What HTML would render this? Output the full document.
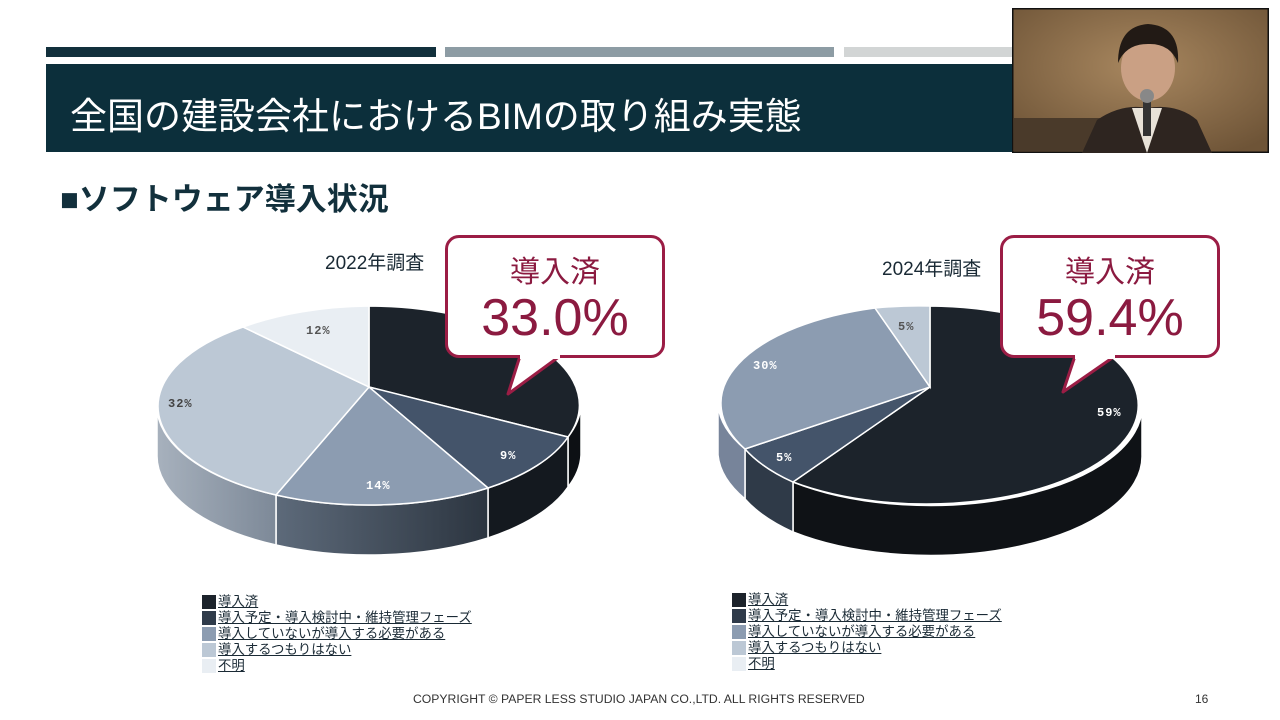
<!DOCTYPE html>
<html><head><meta charset="utf-8"><style>
body{margin:0;width:1280px;height:720px;background:#fff;position:relative;overflow:hidden;font-family:"Liberation Sans","Noto Sans CJK JP",sans-serif}
.a{position:absolute}
.leg{position:absolute;font-size:13.4px;color:#1a2a35;line-height:16px}
.leg div{position:relative;height:16px;padding-left:16px;white-space:nowrap}
.leg span{text-decoration:underline}
.leg i{position:absolute;left:0;top:1px;width:14px;height:14px}
.co{position:absolute;width:214px;height:117px;border:3px solid #9b1d45;border-radius:14px;background:#fff;color:#8b1a40;text-align:center}
</style></head><body>
<div class="a" style="left:46px;top:47px;width:390px;height:10px;background:#12303c"></div>
<div class="a" style="left:445px;top:47px;width:389px;height:10px;background:#8d9ca4"></div>
<div class="a" style="left:844px;top:47px;width:170px;height:10px;background:#d2d5d5"></div>
<div class="a" style="left:46px;top:64px;width:968px;height:88px;background:#0c2f3b"></div>
<div class="a" style="left:70px;top:86px;font-size:37px;color:#fff;white-space:nowrap">全国の建設会社におけるBIMの取り組み実態</div>
<svg class="a" style="left:1012px;top:8px" width="257" height="145">
<defs><radialGradient id="bg" cx="0.5" cy="0.4" r="0.7"><stop offset="0" stop-color="#a8875f"/><stop offset="1" stop-color="#6e5437"/></radialGradient></defs>
<rect width="257" height="145" fill="url(#bg)" stroke="#111" stroke-width="3"/>
<rect x="2" y="110" width="90" height="33" fill="#4a3a2a"/>
<path d="M70 145 L85 112 Q110 95 135 100 Q165 95 185 112 L200 145Z" fill="#2e2520"/>
<path d="M120 100 L135 145 L150 100Z" fill="#e8e2d8"/>
<ellipse cx="136" cy="60" rx="27" ry="33" fill="#caa084"/>
<path d="M106 55 Q106 18 136 16 Q168 18 166 55 Q158 35 136 36 Q114 36 106 55Z" fill="#221a15"/>
<rect x="131" y="88" width="8" height="40" fill="#333"/>
<circle cx="135" cy="88" r="7" fill="#888"/>
</svg>
<div class="a" style="left:60px;top:174px;font-size:31px;font-weight:bold;color:#12303c;white-space:nowrap">■ソフトウェア導入状況</div>
<div class="a" style="left:325px;top:248px;font-size:19px;color:#1a2a35">2022年調査</div>
<div class="a" style="left:882px;top:254px;font-size:19px;color:#1a2a35">2024年調査</div>
<svg class="a" style="left:0;top:0" width="1280" height="720">
<defs>
<linearGradient id="g1" x1="0" x2="1"><stop offset="0" stop-color="#5d6a7a"/><stop offset="1" stop-color="#2c3540"/></linearGradient>
<linearGradient id="g2" x1="0" x2="1"><stop offset="0" stop-color="#a7b1bd"/><stop offset="1" stop-color="#7d8998"/></linearGradient>
</defs>
<g stroke="#fff" stroke-width="1.5">
<path d="M581 405 A212 99 0 0 1 568 437 L568 487 A212 99 0 0 0 581 455Z" fill="#0d1014"/>
<path d="M568 437 A212 99 0 0 1 488 488 L488 538 A212 99 0 0 0 568 487Z" fill="#14191f"/>
<path d="M488 488 A212 99 0 0 1 276 495 L276 545 A212 99 0 0 0 488 538Z" fill="url(#g1)"/>
<path d="M276 495 A212 99 0 0 1 157 405 L157 455 A212 99 0 0 0 276 545Z" fill="url(#g2)"/>
<path d="M369 387 L369 306 A212 99 0 0 1 568 437Z" fill="#1c232b"/>
<path d="M369 387 L568 437 A212 99 0 0 1 488 488Z" fill="#44546a"/>
<path d="M369 387 L488 488 A212 99 0 0 1 276 495Z" fill="#8c9cb1"/>
<path d="M369 387 L276 495 A212 99 0 0 1 243 327Z" fill="#bcc8d5"/>
<path d="M369 387 L243 327 A212 99 0 0 1 369 306Z" fill="#e9eef3"/>
<path d="M1142 405 A212 99 0 0 1 793 482 L793 532 A212 99 0 0 0 1142 455Z" fill="#0f1216"/>
<path d="M793 482 A212 99 0 0 1 745 449 L745 499 A212 99 0 0 0 793 532Z" fill="#2f3a48"/>
<path d="M745 449 A212 99 0 0 1 718 405 L718 455 A212 99 0 0 0 745 499Z" fill="#77849a"/>
<path d="M930 387 L930 306 A212 99 0 1 1 793 482Z" fill="#1c232b"/>
<path d="M930 387 L793 482 A212 99 0 0 1 745 449Z" fill="#44546a"/>
<path d="M930 387 L745 449 A212 99 0 0 1 875 308Z" fill="#8c9cb1"/>
<path d="M930 387 L875 308 A212 99 0 0 1 930 306Z" fill="#bcc8d5"/>
</g>
<g font-family="Liberation Mono,monospace" font-size="12" font-weight="bold" letter-spacing="1">
<text x="306" y="334" fill="#555">12%</text>
<text x="168" y="407" fill="#444">32%</text>
<text x="500" y="459" fill="#fff">9%</text>
<text x="366" y="489" fill="#fff">14%</text>
<text x="898" y="330" fill="#555">5%</text>
<text x="753" y="369" fill="#fff">30%</text>
<text x="776" y="461" fill="#fff">5%</text>
<text x="1097" y="416" fill="#fff">59%</text>
</g>
<path d="M520 356 L508 394 L560 356Z" fill="#fff" stroke="#9b1d45" stroke-width="3" stroke-linejoin="round"/>
<path d="M1075 356 L1063 392 L1115 356Z" fill="#fff" stroke="#9b1d45" stroke-width="3" stroke-linejoin="round"/>
</svg>
<div class="co" style="left:445px;top:235px"><div style="font-size:30px;margin-top:18px;line-height:34px">導入済</div><div style="font-size:52px;line-height:56px">33.0%</div></div>
<div class="co" style="left:1000px;top:235px"><div style="font-size:30px;margin-top:18px;line-height:34px">導入済</div><div style="font-size:52px;line-height:56px">59.4%</div></div>
<svg class="a" style="left:0;top:0" width="1280" height="720"><rect x="520" y="353" width="40" height="6" fill="#fff"/><rect x="1075" y="353" width="40" height="6" fill="#fff"/></svg>
<div class="leg" style="left:202px;top:594px">
<div><i style="background:#1c232b"></i><span>導入済</span></div>
<div><i style="background:#2f3b4a"></i><span>導入予定・導入検討中・維持管理フェーズ</span></div>
<div><i style="background:#8c9cb1"></i><span>導入していないが導入する必要がある</span></div>
<div><i style="background:#bcc8d5"></i><span>導入するつもりはない</span></div>
<div><i style="background:#e9eef3"></i><span>不明</span></div>
</div>
<div class="leg" style="left:732px;top:592px">
<div><i style="background:#1c232b"></i><span>導入済</span></div>
<div><i style="background:#2f3b4a"></i><span>導入予定・導入検討中・維持管理フェーズ</span></div>
<div><i style="background:#8c9cb1"></i><span>導入していないが導入する必要がある</span></div>
<div><i style="background:#bcc8d5"></i><span>導入するつもりはない</span></div>
<div><i style="background:#e9eef3"></i><span>不明</span></div>
</div>
<div class="a" style="left:413px;top:692px;font-size:12.2px;color:#333;white-space:nowrap">COPYRIGHT © PAPER LESS STUDIO JAPAN CO.,LTD. ALL RIGHTS RESERVED</div>
<div class="a" style="left:1195px;top:692px;font-size:12px;color:#333">16</div>
</body></html>
